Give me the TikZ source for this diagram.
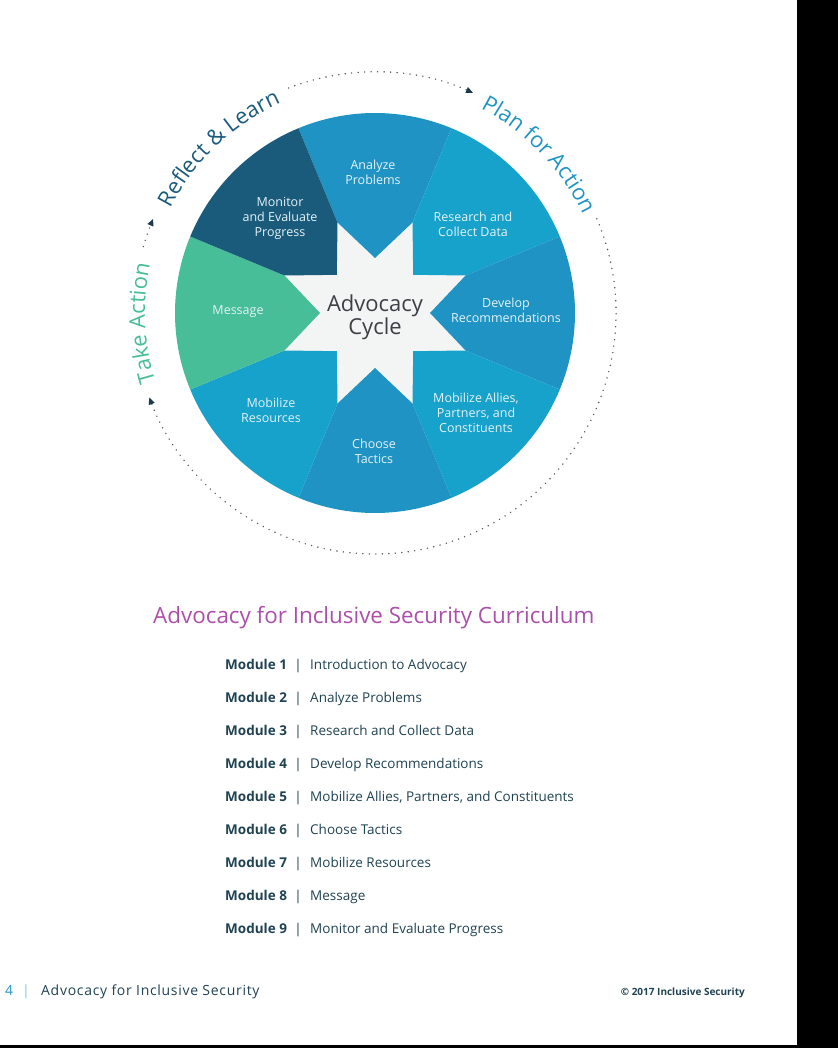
\documentclass[tikz,border=0pt]{standalone}
\usepackage{fontspec}
\setmainfont{Open Sans}
\usetikzlibrary{arrows.meta,decorations.text}
\definecolor{wheelmid}{HTML}{1F94C4}
\definecolor{wheelbright}{HTML}{16A2CA}
\definecolor{wheeldark}{HTML}{1A5B7C}
\definecolor{wheelgreen}{HTML}{47BD98}
\definecolor{starfill}{HTML}{F3F5F5}
\definecolor{cycletext}{HTML}{3B4045}
\definecolor{headpurple}{HTML}{AC4FAB}
\definecolor{modtext}{HTML}{1F4252}
\definecolor{dotgray}{HTML}{4F5B61}
\definecolor{tipnavy}{HTML}{1B3A4B}
\definecolor{barblue}{HTML}{7CC6E0}
\begin{document}
\begin{tikzpicture}[x=1pt,y=1pt,
    seglabel/.style={align=center,inner sep=0pt,text=white!88!wheelmid,font=\fontsize{12.5}{15}\selectfont},
    cyclearrow/.style={dotgray,line width=1.6pt,line cap=round,dash pattern=on 0pt off 6.5pt,-{Triangle[length=7pt,width=6pt,color=tipnavy]}},
    modrow/.style={anchor=base west,inner sep=0pt,text=modtext,font=\fontsize{13.5}{16}\selectfont}]
  \useasboundingbox (0,0) rectangle (838,-1048);
  \fill[black] (797,0) rectangle (838,-1048);
  \fill[black] (0,-1045) rectangle (838,-1048);

  % the wheel
  \begin{scope}[shift={(375,-313)}]
    \fill[starfill] (0,0) circle (99);
    \fill[wheelmid] (67.5:98) -- (67.5:200) arc[start angle=67.5,end angle=112.5,radius=200] -- (112.5:98) -- (90:55) -- cycle;
    \fill[wheelbright] (22.5:98) -- (22.5:200) arc[start angle=22.5,end angle=67.5,radius=200] -- (67.5:98) -- (45:54) -- cycle;
    \fill[wheelmid] (-22.5:98) -- (-22.5:200) arc[start angle=-22.5,end angle=22.5,radius=200] -- (22.5:98) -- (0:55) -- cycle;
    \fill[wheelbright] (-67.5:98) -- (-67.5:200) arc[start angle=-67.5,end angle=-22.5,radius=200] -- (-22.5:98) -- (-45:54) -- cycle;
    \fill[wheelmid] (-112.5:98) -- (-112.5:200) arc[start angle=-112.5,end angle=-67.5,radius=200] -- (-67.5:98) -- (-90:55) -- cycle;
    \fill[wheelbright] (-157.5:98) -- (-157.5:200) arc[start angle=-157.5,end angle=-112.5,radius=200] -- (-112.5:98) -- (-135:54) -- cycle;
    \fill[wheelgreen] (157.5:98) -- (157.5:200) arc[start angle=157.5,end angle=202.5,radius=200] -- (202.5:98) -- (180:55) -- cycle;
    \fill[wheeldark] (112.5:98) -- (112.5:200) arc[start angle=112.5,end angle=157.5,radius=200] -- (157.5:98) -- (135:54) -- cycle;

    \node[seglabel] (analyze) at (-2,141) {Analyze\\Problems};
    \node[seglabel] (research) at (98,89) {Research and\\Collect Data};
    \node[seglabel] (develop) at (131,3) {Develop\\Recommendations};
    \node[seglabel] (allies) at (101,-100) {Mobilize Allies,\\Partners, and\\Constituents};
    \node[seglabel] (tactics) at (-1,-138) {Choose\\Tactics};
    \node[seglabel] (resources) at (-104,-97) {Mobilize\\Resources};
    \node[seglabel] (message) at (-137,1) {Message};
    \node[seglabel] (monitor) at (-95,95) {Monitor\\and Evaluate\\Progress};
    \node[align=center,inner sep=0pt,text=cycletext,font=\fontsize{22}{20.5}\selectfont] (cycle) at (0,-4) {Advocacy\\Cycle};

    % ring round the wheel
    \path[decorate,decoration={text along path,text align=center,text color=wheelgreen,
      text={|\fontsize{22}{22}\selectfont|Take Action}}] (201:230) arc[start angle=201,end angle=164,radius=230];
    \path[decorate,decoration={text along path,text align=center,text color=wheeldark,
      text={|\fontsize{22}{22}\selectfont|Reflect {\&} Learn}}] (155:230) arc[start angle=155,end angle=112,radius=230];
    \path[decorate,decoration={text along path,text align=center,text color=wheelmid,
      text={|\fontsize{22}{22}\selectfont|Plan for Action}}] (65:230) arc[start angle=65,end angle=23,radius=230];
    \draw[cyclearrow] (164:241) arc[start angle=164,end angle=157,radius=241];
    \draw[cyclearrow] (111:241) arc[start angle=111,end angle=66,radius=241];
    \draw[cyclearrow] (23:241) arc[start angle=23,end angle=-159.5,radius=241];
  \end{scope}

  % curriculum list
  \node[anchor=base west,inner sep=0pt,text=headpurple,font=\fontsize{22.4}{26}\selectfont] (curriculum) at (153,-623) {Advocacy for Inclusive Security Curriculum};
  \node[modrow,font=\fontsize{13.5}{16}\selectfont\bfseries] (mod1) at (225,-669) {Module 1};
  \node[modrow,anchor=base] at (298,-669) {|};
  \node[modrow] (topic1) at (310,-669) {Introduction to Advocacy};
  \node[modrow,font=\fontsize{13.5}{16}\selectfont\bfseries] (mod2) at (225,-702) {Module 2};
  \node[modrow,anchor=base] at (298,-702) {|};
  \node[modrow] (topic2) at (310,-702) {Analyze Problems};
  \node[modrow,font=\fontsize{13.5}{16}\selectfont\bfseries] (mod3) at (225,-735) {Module 3};
  \node[modrow,anchor=base] at (298,-735) {|};
  \node[modrow] (topic3) at (310,-735) {Research and Collect Data};
  \node[modrow,font=\fontsize{13.5}{16}\selectfont\bfseries] (mod4) at (225,-768) {Module 4};
  \node[modrow,anchor=base] at (298,-768) {|};
  \node[modrow] (topic4) at (310,-768) {Develop Recommendations};
  \node[modrow,font=\fontsize{13.5}{16}\selectfont\bfseries] (mod5) at (225,-801) {Module 5};
  \node[modrow,anchor=base] at (298,-801) {|};
  \node[modrow] (topic5) at (310,-801) {Mobilize Allies, Partners, and Constituents};
  \node[modrow,font=\fontsize{13.5}{16}\selectfont\bfseries] (mod6) at (225,-834) {Module 6};
  \node[modrow,anchor=base] at (298,-834) {|};
  \node[modrow] (topic6) at (310,-834) {Choose Tactics};
  \node[modrow,font=\fontsize{13.5}{16}\selectfont\bfseries] (mod7) at (225,-867) {Module 7};
  \node[modrow,anchor=base] at (298,-867) {|};
  \node[modrow] (topic7) at (310,-867) {Mobilize Resources};
  \node[modrow,font=\fontsize{13.5}{16}\selectfont\bfseries] (mod8) at (225,-900) {Module 8};
  \node[modrow,anchor=base] at (298,-900) {|};
  \node[modrow] (topic8) at (310,-900) {Message};
  \node[modrow,font=\fontsize{13.5}{16}\selectfont\bfseries] (mod9) at (225,-933) {Module 9};
  \node[modrow,anchor=base] at (298,-933) {|};
  \node[modrow] (topic9) at (310,-933) {Monitor and Evaluate Progress};

  % footer
  \node[modrow,text=wheelmid,font=\fontsize{14}{16}\selectfont] (pagenum) at (5,-995) {4};
  \node[modrow,anchor=base,text=barblue,font=\fontsize{14}{16}\selectfont] at (26,-995) {|};
  \node[modrow,font=\fontsize{14}{16}\selectfont\addfontfeatures{LetterSpace=5}] (booktitle) at (41,-995) {Advocacy for Inclusive Security};
  \node[modrow,anchor=base east,font=\fontsize{10}{12}\selectfont\bfseries] (copyright) at (745,-995) {© 2017 Inclusive Security};
\end{tikzpicture}
\end{document}
